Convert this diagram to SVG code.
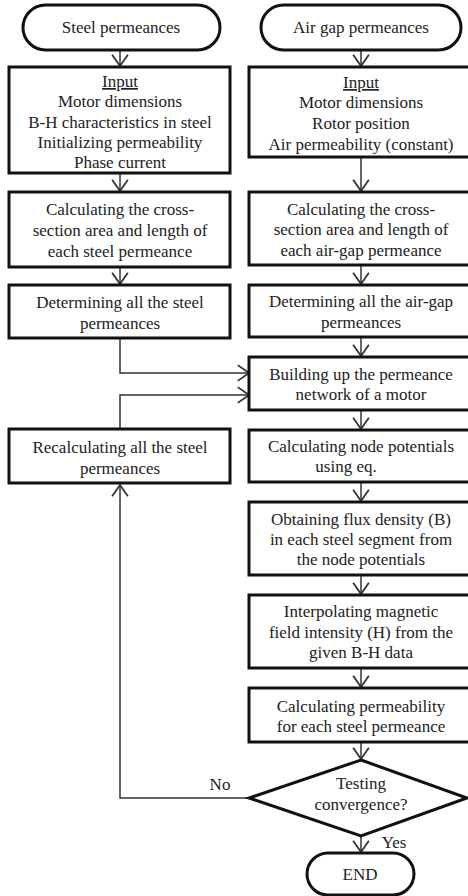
<svg xmlns="http://www.w3.org/2000/svg" width="468" height="896" viewBox="0 0 468 896">
<style>
.box{fill:#fff;stroke:#111;stroke-width:3}
.t{font-family:"Liberation Serif","Times New Roman",serif;font-size:17px;fill:#222;text-anchor:middle}
.c{fill:none;stroke:#333;stroke-width:1.5}
</style>
<defs>
<marker id="arr" markerUnits="userSpaceOnUse" markerWidth="14" markerHeight="18" viewBox="-11 -8 12 16" refX="0" refY="0" orient="auto">
<path d="M-10,-7 L0,0 L-10,7" fill="none" stroke="#333" stroke-width="1.6"/>
</marker>
</defs>
<rect width="468" height="896" fill="#fff"/>
<g id="connectors">
<path class="c" d="M120,50 V66" marker-end="url(#arr)"/>
<path class="c" d="M120,173 V191" marker-end="url(#arr)"/>
<path class="c" d="M120,267 V284" marker-end="url(#arr)"/>
<path class="c" d="M120,338 V373 H249" marker-end="url(#arr)"/>
<path class="c" d="M120,428 V395 H249" marker-end="url(#arr)"/>
<path class="c" d="M361,50 V66" marker-end="url(#arr)"/>
<path class="c" d="M361,157 V191" marker-end="url(#arr)"/>
<path class="c" d="M361,265 V284" marker-end="url(#arr)"/>
<path class="c" d="M361,337 V356" marker-end="url(#arr)"/>
<path class="c" d="M361,410 V429" marker-end="url(#arr)"/>
<path class="c" d="M361,482 V501" marker-end="url(#arr)"/>
<path class="c" d="M361,575 V594" marker-end="url(#arr)"/>
<path class="c" d="M361,668 V687" marker-end="url(#arr)"/>
<path class="c" d="M361,742 V759" marker-end="url(#arr)"/>
<path class="c" d="M249,798 H120 V485" marker-end="url(#arr)"/>
<path class="c" d="M361,836 V852" marker-end="url(#arr)"/>
<text class="t" x="220" y="790">No</text>
<text class="t" x="394" y="848">Yes</text>
</g>
<g id="steel-start">
<rect class="box" x="23" y="5" width="197" height="45" rx="22.5"/>
<text class="t" x="121" y="33">Steel permeances</text>
</g>
<g id="steel-input">
<rect class="box" x="9" y="67" width="221" height="106"/>
<text class="t" x="120" y="87" text-decoration="underline">Input</text>
<text class="t" x="120" y="107">Motor dimensions</text>
<text class="t" x="120" y="128">B-H characteristics in steel</text>
<text class="t" x="120" y="148">Initializing permeability</text>
<text class="t" x="120" y="168">Phase current</text>
</g>
<g id="steel-calc">
<rect class="box" x="9" y="192" width="221" height="75"/>
<text class="t" x="120" y="215">Calculating the cross-</text>
<text class="t" x="120" y="236">section area and length of</text>
<text class="t" x="120" y="257">each steel permeance</text>
</g>
<g id="steel-det">
<rect class="box" x="9" y="285" width="221" height="53"/>
<text class="t" x="120" y="308">Determining all the steel</text>
<text class="t" x="120" y="329">permeances</text>
</g>
<g id="recalc">
<rect class="box" x="9" y="429" width="221" height="54"/>
<text class="t" x="120" y="453">Recalculating all the steel</text>
<text class="t" x="120" y="474">permeances</text>
</g>
<g id="air-start">
<rect class="box" x="261" y="5" width="200" height="45" rx="22.5"/>
<text class="t" x="361" y="33">Air gap permeances</text>
</g>
<g id="air-input">
<rect class="box" x="249" y="67" width="225" height="90"/>
<text class="t" x="361" y="88" text-decoration="underline">Input</text>
<text class="t" x="361" y="108">Motor dimensions</text>
<text class="t" x="361" y="129">Rotor position</text>
<text class="t" x="361" y="150">Air permeability (constant)</text>
</g>
<g id="air-calc">
<rect class="box" x="249" y="192" width="225" height="73"/>
<text class="t" x="361" y="215">Calculating the cross-</text>
<text class="t" x="361" y="235">section area and length of</text>
<text class="t" x="361" y="256">each air-gap permeance</text>
</g>
<g id="air-det">
<rect class="box" x="249" y="285" width="225" height="52"/>
<text class="t" x="361" y="307">Determining all the air-gap</text>
<text class="t" x="361" y="328">permeances</text>
</g>
<g id="build">
<rect class="box" x="249" y="357" width="225" height="53"/>
<text class="t" x="361" y="380">Building up the permeance</text>
<text class="t" x="361" y="400">network of a motor</text>
</g>
<g id="node-pot">
<rect class="box" x="249" y="430" width="225" height="52"/>
<text class="t" x="361" y="452">Calculating node potentials</text>
<text class="t" x="346" y="472">using eq.</text>
</g>
<g id="flux">
<rect class="box" x="249" y="502" width="225" height="73"/>
<text class="t" x="361" y="525">Obtaining flux density (B)</text>
<text class="t" x="361" y="545">in each steel segment from</text>
<text class="t" x="361" y="565">the node potentials</text>
</g>
<g id="interp">
<rect class="box" x="249" y="595" width="225" height="73"/>
<text class="t" x="361" y="617">Interpolating magnetic</text>
<text class="t" x="361" y="638">field intensity (H) from the</text>
<text class="t" x="361" y="658">given B-H data</text>
</g>
<g id="perm">
<rect class="box" x="249" y="688" width="225" height="54"/>
<text class="t" x="361" y="712">Calculating permeability</text>
<text class="t" x="361" y="732">for each steel permeance</text>
</g>
<g id="test">
<polygon class="box" points="361,760 467,798 361,836 249,798"/>
<text class="t" x="361" y="789">Testing</text>
<text class="t" x="361" y="810">convergence?</text>
</g>
<g id="end">
<rect class="box" x="307" y="853" width="107" height="42" rx="21"/>
<text class="t" x="360" y="880">END</text>
</g>
</svg>
